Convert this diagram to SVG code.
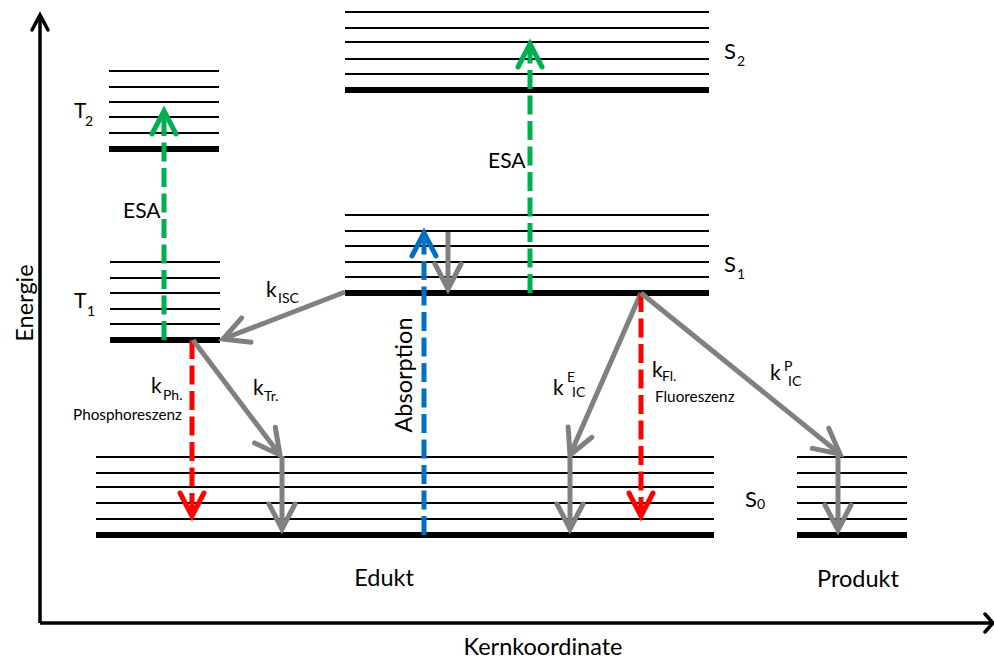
<svg xmlns="http://www.w3.org/2000/svg" width="994" height="661" viewBox="0 0 994 661">
  <style>
    text { font-family: "Lato", "Liberation Sans", sans-serif; fill: #000; }
    .lbl { font-size: 21px; }
    .big { font-size: 23.5px; }
    .sub { font-size: 14px; }
    .note { font-size: 15.3px; }
    .thin { stroke: #000; stroke-width: 2; }
    .thick { stroke: #000; stroke-width: 6; }
    .axis { stroke: #000; stroke-width: 3.5; fill: none; }
    .arr { fill: none; stroke-width: 5; }
    .dash { stroke-dasharray: 19 6.5; }
    .green { stroke: #00B050; }
    .blue { stroke: #0070C0; }
    .red { stroke: #FF0000; }
    .gray { stroke: #808080; }
  </style>
  <defs>
    <marker id="head-green" markerUnits="userSpaceOnUse" orient="auto" refX="0" refY="0" overflow="visible">
      <path d="M-23,-12 L0,0 L-23,12" fill="none" stroke="#00B050" stroke-width="5" stroke-linecap="round" stroke-linejoin="miter"/>
    </marker>
    <marker id="head-blue" markerUnits="userSpaceOnUse" orient="auto" refX="0" refY="0" overflow="visible">
      <path d="M-23,-12 L0,0 L-23,12" fill="none" stroke="#0070C0" stroke-width="5" stroke-linecap="round" stroke-linejoin="miter"/>
    </marker>
    <marker id="head-red" markerUnits="userSpaceOnUse" orient="auto" refX="0" refY="0" overflow="visible">
      <path d="M-23,-12 L0,0 L-23,12" fill="none" stroke="#FF0000" stroke-width="5" stroke-linecap="round" stroke-linejoin="miter"/>
    </marker>
    <marker id="head-gray" markerUnits="userSpaceOnUse" orient="auto" refX="0" refY="0" overflow="visible">
      <path d="M-25,-13 L0,0 L-25,13" fill="none" stroke="#808080" stroke-width="5" stroke-linecap="round" stroke-linejoin="miter"/>
    </marker>
  </defs>

  <!-- axes -->
  <g id="axes">
    <path class="axis" d="M40,623 L40,16"/>
    <path class="axis" d="M32,30 L40,15 L48,30" stroke-linecap="round"/>
    <path class="axis" d="M40,623 L992,623"/>
    <path class="axis" d="M985,614 L993,623 L985,632" stroke-linecap="round"/>
    <text class="big" transform="translate(33,303) rotate(-90)" text-anchor="middle">Energie</text>
    <text class="big" x="543" y="655" text-anchor="middle">Kernkoordinate</text>
  </g>

  <!-- T2 level stack -->
  <g id="T2">
    <line class="thin" x1="109" y1="71" x2="219" y2="71"/>
    <line class="thin" x1="109" y1="87" x2="219" y2="87"/>
    <line class="thin" x1="109" y1="102" x2="219" y2="102"/>
    <line class="thin" x1="109" y1="117" x2="219" y2="117"/>
    <line class="thin" x1="109" y1="133" x2="219" y2="133"/>
    <line class="thick" x1="109" y1="149" x2="219" y2="149"/>
    <text class="lbl" x="74" y="118">T</text><text class="sub" x="85" y="126">2</text>
  </g>

  <!-- T1 level stack -->
  <g id="T1">
    <line class="thin" x1="110" y1="262" x2="220" y2="262"/>
    <line class="thin" x1="110" y1="278" x2="220" y2="278"/>
    <line class="thin" x1="110" y1="293" x2="220" y2="293"/>
    <line class="thin" x1="110" y1="309" x2="220" y2="309"/>
    <line class="thin" x1="110" y1="324" x2="220" y2="324"/>
    <line class="thick" x1="110" y1="340" x2="220" y2="340"/>
    <text class="lbl" x="74" y="308">T</text><text class="sub" x="87" y="316">1</text>
  </g>

  <!-- S2 level stack -->
  <g id="S2">
    <line class="thin" x1="345" y1="12" x2="709" y2="12"/>
    <line class="thin" x1="345" y1="28" x2="709" y2="28"/>
    <line class="thin" x1="345" y1="42" x2="709" y2="42"/>
    <line class="thin" x1="345" y1="59" x2="709" y2="59"/>
    <line class="thin" x1="345" y1="74" x2="709" y2="74"/>
    <line class="thick" x1="345" y1="90" x2="709" y2="90"/>
    <text class="lbl" x="724" y="59" style="font-size:22px">S</text><text class="sub" x="737" y="66">2</text>
  </g>

  <!-- S1 level stack -->
  <g id="S1">
    <line class="thin" x1="345" y1="215" x2="709" y2="215"/>
    <line class="thin" x1="345" y1="231" x2="709" y2="231"/>
    <line class="thin" x1="345" y1="246" x2="709" y2="246"/>
    <line class="thin" x1="345" y1="262" x2="709" y2="262"/>
    <line class="thin" x1="345" y1="277" x2="709" y2="277"/>
    <line class="thick" x1="345" y1="293" x2="709" y2="293"/>
    <text class="lbl" x="724" y="272" style="font-size:22px">S</text><text class="sub" x="737" y="279">1</text>
  </g>

  <!-- S0 level stack, educt side -->
  <g id="S0-edukt">
    <line class="thin" x1="96" y1="457" x2="714" y2="457"/>
    <line class="thin" x1="96" y1="473" x2="714" y2="473"/>
    <line class="thin" x1="96" y1="487" x2="714" y2="487"/>
    <line class="thin" x1="96" y1="503" x2="714" y2="503"/>
    <line class="thin" x1="96" y1="519" x2="714" y2="519"/>
    <line class="thick" x1="96" y1="535" x2="714" y2="535"/>
    <text class="lbl" x="745" y="507" style="font-size:22px">S</text><text class="sub" x="757" y="509">0</text>
    <text class="big" x="384" y="586" text-anchor="middle">Edukt</text>
  </g>

  <!-- S0 level stack, product side -->
  <g id="S0-produkt">
    <line class="thin" x1="797" y1="457" x2="907" y2="457"/>
    <line class="thin" x1="797" y1="473" x2="907" y2="473"/>
    <line class="thin" x1="797" y1="487" x2="907" y2="487"/>
    <line class="thin" x1="797" y1="503" x2="907" y2="503"/>
    <line class="thin" x1="797" y1="519" x2="907" y2="519"/>
    <line class="thick" x1="797" y1="535" x2="907" y2="535"/>
    <text class="big" x="858" y="587" text-anchor="middle">Produkt</text>
  </g>

  <!-- transitions -->
  <g id="connectors">
    <!-- excited state absorption -->
    <path class="arr dash green" d="M164,340 L164,111" marker-end="url(#head-green)"/>
    <path class="arr dash green" d="M530,293 L530,44" marker-end="url(#head-green)"/>
    <!-- absorption -->
    <path class="arr dash blue" d="M424,535 L424,233" marker-end="url(#head-blue)"/>
    <!-- vibrational relaxation in S1 -->
    <path class="arr gray" d="M448,232 L448,289" marker-end="url(#head-gray)"/>
    <!-- intersystem crossing -->
    <path class="arr gray" d="M345,292 L223,339" marker-end="url(#head-gray)"/>
    <!-- phosphorescence -->
    <path class="arr dash red" d="M192,340 L192,516" marker-end="url(#head-red)"/>
    <!-- triplet decay -->
    <path class="arr gray" d="M193,340 L280,455" marker-end="url(#head-gray)"/>
    <path class="arr gray" d="M282,456 L282,529" marker-end="url(#head-gray)"/>
    <!-- internal conversion to educt -->
    <path class="arr gray" d="M641,293 L570,455" marker-end="url(#head-gray)"/>
    <path class="arr gray" d="M570,456 L570,529" marker-end="url(#head-gray)"/>
    <!-- fluorescence -->
    <path class="arr dash red" d="M641,293 L641,516" marker-end="url(#head-red)"/>
    <!-- internal conversion to product -->
    <path class="arr gray" d="M641,293 L840,454" marker-end="url(#head-gray)"/>
    <path class="arr gray" d="M838,456 L838,530" marker-end="url(#head-gray)"/>
  </g>

  <!-- rate labels -->
  <g id="labels">
    <text class="lbl" x="123" y="218">ESA</text>
    <text class="lbl" x="488" y="168">ESA</text>
    <text class="big" transform="translate(412,375) rotate(-90)" text-anchor="middle">Absorption</text>
    <text class="lbl" x="266" y="297">k</text><text class="sub" x="278" y="303">ISC</text>
    <text class="lbl" x="151" y="393">k</text><text class="sub" x="163" y="400">Ph.</text>
    <text class="note" x="73" y="420">Phosphoreszenz</text>
    <text class="lbl" x="253" y="395">k</text><text class="sub" x="264" y="401">Tr.</text>
    <text class="lbl" x="553" y="395">k</text><text class="sub" x="567" y="382">E</text><text class="sub" x="572" y="397">IC</text>
    <text class="lbl" x="652" y="377">k</text><text class="sub" x="662" y="381">Fl.</text>
    <text class="note" x="655" y="402">Fluoreszenz</text>
    <text class="lbl" x="770" y="380">k</text><text class="sub" x="784" y="371">P</text><text class="sub" x="788" y="386">IC</text>
  </g>
</svg>
